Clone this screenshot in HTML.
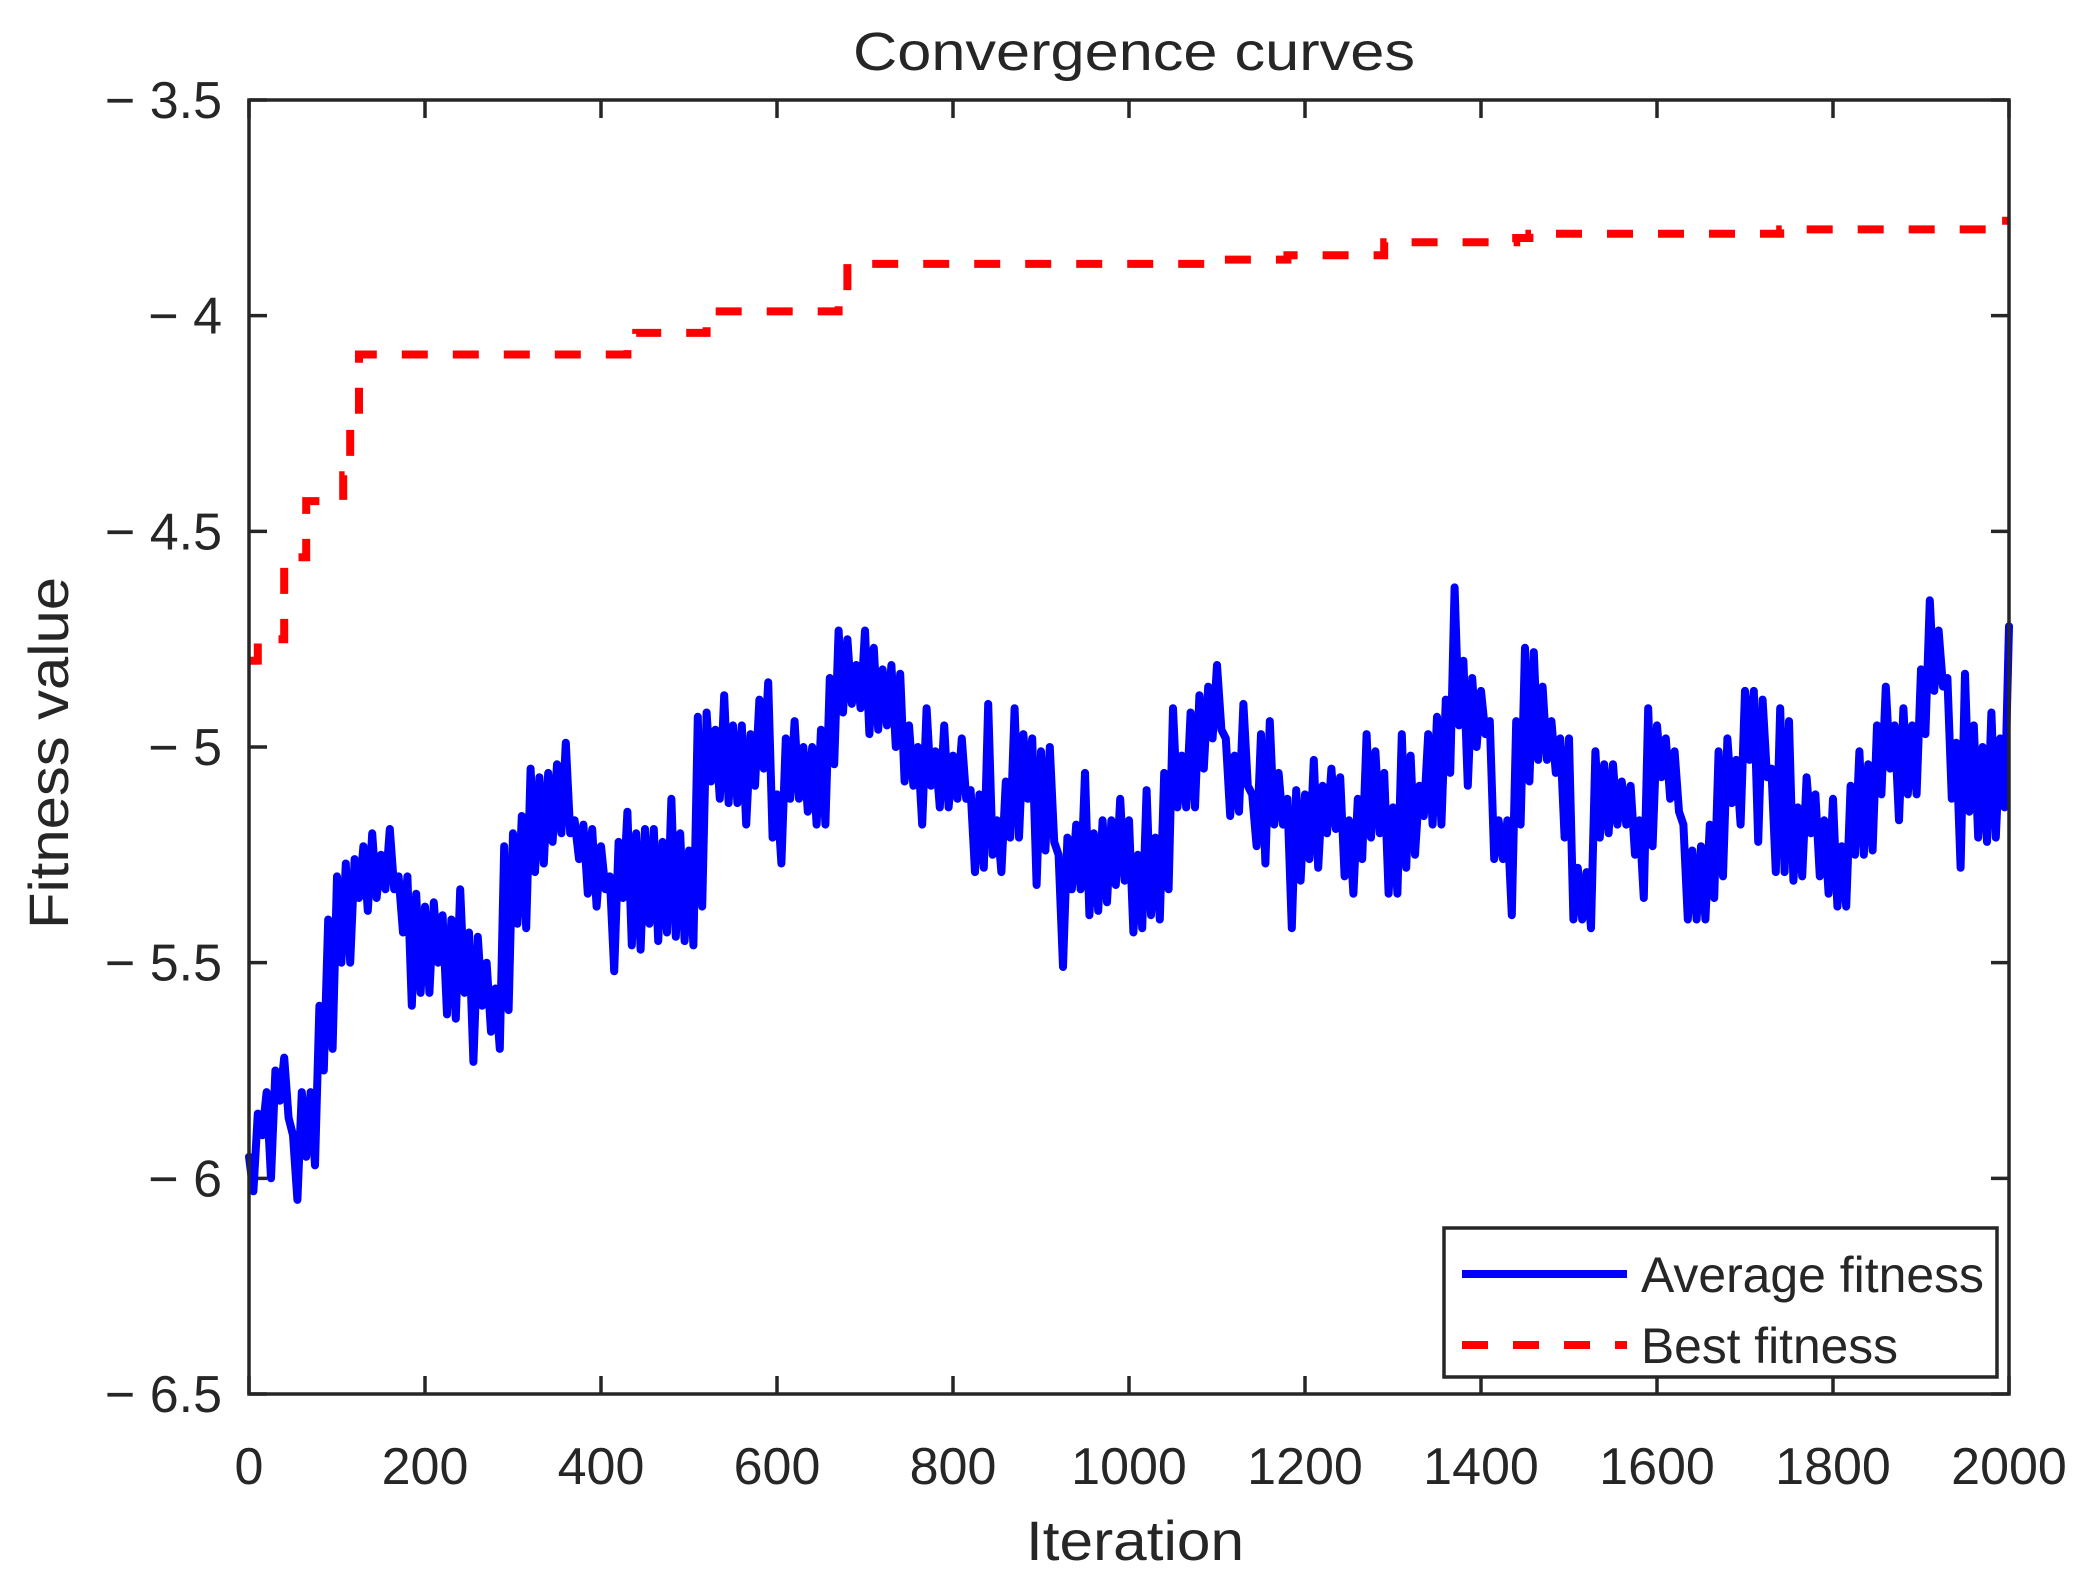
<!DOCTYPE html>
<html><head><meta charset="utf-8"><style>
html,body{margin:0;padding:0;background:#fff;}
svg{display:block;}
text{font-family:"Liberation Sans",sans-serif;fill:#262626;}
</style></head><body>
<svg id="chart" width="2092" height="1577" viewBox="0 0 2092 1577" xmlns="http://www.w3.org/2000/svg">
<rect x="0" y="0" width="2092" height="1577" fill="#fff"/>
<text x="1134" y="70" font-size="54" text-anchor="middle" textLength="562" lengthAdjust="spacingAndGlyphs" fill="#000">Convergence curves</text>
<text x="1135" y="1560" font-size="56" text-anchor="middle" textLength="218" lengthAdjust="spacingAndGlyphs">Iteration</text>
<text transform="translate(68,753) rotate(-90)" font-size="56" text-anchor="middle" textLength="352" lengthAdjust="spacingAndGlyphs">Fitness value</text>
<g id="ticks"></g>
<g id="series"></g>
<rect x="249" y="100" width="1760" height="1294" fill="none" stroke="#262626" stroke-width="3.5"/>
<g>
<rect x="1444" y="1228" width="553" height="149" fill="#fff" stroke="#262626" stroke-width="3.5"/>
<line x1="1462" y1="1274" x2="1627" y2="1274" stroke="#0000ff" stroke-width="8"/>
<text x="1641" y="1292" font-size="50" textLength="343" lengthAdjust="spacingAndGlyphs" fill="#000">Average fitness</text>
<line x1="1462" y1="1345" x2="1627" y2="1345" stroke="#ff0000" stroke-width="8" stroke-dasharray="26,25"/>
<text x="1641" y="1363" font-size="50" textLength="257" lengthAdjust="spacingAndGlyphs" fill="#000">Best fitness</text>
</g>
</svg>
<script>
const xTicks = [0,200,400,600,800,1000,1200,1400,1600,1800,2000];
const yTicks = [-3.5,-4,-4.5,-5,-5.5,-6,-6.5];
const yTickLabels = ["\u2212 3.5","\u2212 4","\u2212 4.5","\u2212 5","\u2212 5.5","\u2212 6","\u2212 6.5"];
const bestIter = [0,10,40,65,107,115,125,430,440,520,670,680,1100,1180,1290,1440,1455,1740,1980,2000];
const bestVal = [-4.80,-4.75,-4.56,-4.43,-4.37,-4.23,-4.09,-4.05,-4.04,-3.99,-3.95,-3.88,-3.87,-3.86,-3.83,-3.82,-3.81,-3.80,-3.78,-3.78];
const avgStep = 5;
const avgVal = [
-5.95,-6.03,-5.85,-5.9,-5.8,-6.0,-5.75,-5.82,-5.72,-5.86,-5.9,-6.05,-5.8,-5.95,-5.8,-5.97,-5.6,-5.75,-5.4,-5.7,
-5.3,-5.5,-5.27,-5.5,-5.26,-5.35,-5.23,-5.38,-5.2,-5.35,-5.25,-5.33,-5.19,-5.33,-5.3,-5.43,-5.3,-5.6,-5.34,-5.57,
-5.37,-5.57,-5.36,-5.5,-5.39,-5.62,-5.4,-5.63,-5.33,-5.57,-5.43,-5.73,-5.44,-5.6,-5.5,-5.66,-5.56,-5.7,-5.23,-5.61,
-5.2,-5.41,-5.16,-5.42,-5.05,-5.29,-5.07,-5.27,-5.06,-5.22,-5.04,-5.2,-4.99,-5.2,-5.17,-5.26,-5.18,-5.34,-5.19,-5.37,
-5.23,-5.33,-5.3,-5.52,-5.22,-5.35,-5.15,-5.46,-5.2,-5.47,-5.19,-5.41,-5.19,-5.45,-5.22,-5.43,-5.12,-5.44,-5.2,-5.45,
-5.24,-5.46,-4.93,-5.37,-4.92,-5.08,-4.96,-5.12,-4.88,-5.13,-4.95,-5.13,-4.95,-5.18,-4.97,-5.09,-4.89,-5.05,-4.85,-5.21,
-5.11,-5.27,-4.98,-5.12,-4.94,-5.12,-5.0,-5.15,-5.0,-5.18,-4.96,-5.18,-4.84,-5.04,-4.73,-4.92,-4.75,-4.9,-4.81,-4.91,
-4.73,-4.97,-4.77,-4.96,-4.82,-4.95,-4.81,-5.0,-4.83,-5.08,-4.95,-5.09,-5.0,-5.18,-4.91,-5.09,-5.01,-5.14,-4.95,-5.14,
-5.02,-5.12,-4.98,-5.12,-5.1,-5.29,-5.11,-5.28,-4.9,-5.25,-5.17,-5.29,-5.08,-5.21,-4.91,-5.21,-4.97,-5.12,-4.98,-5.32,
-5.01,-5.24,-5.0,-5.22,-5.25,-5.51,-5.21,-5.33,-5.18,-5.33,-5.06,-5.39,-5.2,-5.38,-5.17,-5.36,-5.17,-5.32,-5.12,-5.31,
-5.17,-5.43,-5.25,-5.42,-5.1,-5.39,-5.21,-5.4,-5.06,-5.33,-4.91,-5.14,-5.02,-5.14,-4.92,-5.14,-4.88,-5.05,-4.86,-4.98,
-4.81,-4.96,-4.98,-5.16,-5.02,-5.15,-4.9,-5.09,-5.11,-5.23,-4.97,-5.27,-4.94,-5.18,-5.06,-5.18,-5.12,-5.42,-5.1,-5.31,
-5.11,-5.26,-5.03,-5.28,-5.09,-5.2,-5.05,-5.19,-5.07,-5.3,-5.17,-5.34,-5.12,-5.26,-4.97,-5.21,-5.01,-5.2,-5.06,-5.34,
-5.14,-5.34,-4.97,-5.28,-5.02,-5.25,-5.09,-5.16,-4.97,-5.18,-4.93,-5.18,-4.89,-5.06,-4.63,-4.95,-4.8,-5.09,-4.84,-5.0,
-4.87,-4.97,-4.94,-5.26,-5.17,-5.26,-5.17,-5.39,-4.94,-5.18,-4.77,-5.08,-4.78,-5.03,-4.86,-5.03,-4.94,-5.06,-4.98,-5.21,
-4.98,-5.4,-5.28,-5.4,-5.29,-5.42,-5.01,-5.21,-5.04,-5.2,-5.04,-5.18,-5.08,-5.18,-5.09,-5.25,-5.17,-5.35,-4.91,-5.23,
-4.95,-5.07,-4.98,-5.12,-5.01,-5.15,-5.18,-5.4,-5.24,-5.4,-5.23,-5.4,-5.18,-5.35,-5.01,-5.3,-4.98,-5.13,-5.03,-5.18,
-4.87,-5.03,-4.87,-5.22,-4.89,-5.07,-5.05,-5.29,-4.91,-5.29,-4.94,-5.31,-5.14,-5.3,-5.07,-5.2,-5.11,-5.3,-5.17,-5.34,
-5.12,-5.37,-5.23,-5.37,-5.09,-5.25,-5.01,-5.25,-5.04,-5.24,-4.95,-5.11,-4.86,-5.05,-4.95,-5.17,-4.91,-5.11,-4.95,-5.11,
-4.82,-4.97,-4.66,-4.87,-4.73,-4.86,-4.84,-5.12,-4.99,-5.28,-4.83,-5.15,-4.95,-5.21,-5.0,-5.22,-4.92,-5.21,-4.98,-5.14,
-4.72
];
const NS = "http://www.w3.org/2000/svg";
const X0 = 249, X1 = 2009, Y0 = 100, Y1 = 1394;
function xs(v){ return X0 + (v - 0) / 2000 * (X1 - X0); }
function ys(v){ return Y0 + (-3.5 - v) / 3 * (Y1 - Y0); }
const tg = document.getElementById('ticks');
xTicks.forEach(function(t){
  const x = xs(t);
  const l1 = document.createElementNS(NS,'line');
  l1.setAttribute('x1',x); l1.setAttribute('x2',x); l1.setAttribute('y1',Y1); l1.setAttribute('y2',Y1-18);
  l1.setAttribute('stroke','#262626'); l1.setAttribute('stroke-width','3.5');
  
  
  tg.appendChild(l1);
  const l2 = document.createElementNS(NS,'line');
  l2.setAttribute('x1',x); l2.setAttribute('x2',x); l2.setAttribute('y1',Y0); l2.setAttribute('y2',Y0+18);
  l2.setAttribute('stroke','#262626'); l2.setAttribute('stroke-width','3.5');
  
  
  tg.appendChild(l2);
  const tx = document.createElementNS(NS,'text');
  tx.setAttribute('x',x); tx.setAttribute('y',1484); tx.setAttribute('font-size','52');
  tx.setAttribute('text-anchor','middle');
  tx.textContent = String(t);
  
  
  tg.appendChild(tx);
});
yTicks.forEach(function(t,i){
  const y = ys(t);
  const l1 = document.createElementNS(NS,'line');
  l1.setAttribute('x1',X0); l1.setAttribute('x2',X0+18); l1.setAttribute('y1',y); l1.setAttribute('y2',y);
  l1.setAttribute('stroke','#262626'); l1.setAttribute('stroke-width','3.5');
  
  
  tg.appendChild(l1);
  const l2 = document.createElementNS(NS,'line');
  l2.setAttribute('x1',X1); l2.setAttribute('x2',X1-18); l2.setAttribute('y1',y); l2.setAttribute('y2',y);
  l2.setAttribute('stroke','#262626'); l2.setAttribute('stroke-width','3.5');
  
  
  tg.appendChild(l2);
  const tx = document.createElementNS(NS,'text');
  tx.setAttribute('x',222); tx.setAttribute('y',y+18); tx.setAttribute('font-size','52');
  tx.setAttribute('text-anchor','end');
  tx.textContent = yTickLabels[i];
  
  
  tg.appendChild(tx);
});
const sg = document.getElementById('series');
let d = '';
avgVal.forEach(function(v,i){ d += (i ? 'L' : 'M') + xs(i*avgStep).toFixed(1) + ',' + ys(v).toFixed(1); });
const avg = document.createElementNS(NS,'path');
avg.setAttribute('d', d); avg.setAttribute('fill','none'); avg.setAttribute('stroke','#0000ff');
avg.setAttribute('stroke-width','8'); avg.setAttribute('stroke-linejoin','round'); avg.setAttribute('stroke-linecap','round');


sg.appendChild(avg);
let db = 'M' + xs(bestIter[0]) + ',' + ys(bestVal[0]);
for (let i = 1; i < bestIter.length; i++) {
  db += 'L' + xs(bestIter[i]).toFixed(1) + ',' + ys(bestVal[i-1]).toFixed(1);
  db += 'L' + xs(bestIter[i]).toFixed(1) + ',' + ys(bestVal[i]).toFixed(1);
}
const best = document.createElementNS(NS,'path');
best.setAttribute('d', db); best.setAttribute('fill','none'); best.setAttribute('stroke','#ff0000');
best.setAttribute('stroke-width','8'); best.setAttribute('stroke-dasharray','26,25');


sg.appendChild(best);
</script>
</body></html>
